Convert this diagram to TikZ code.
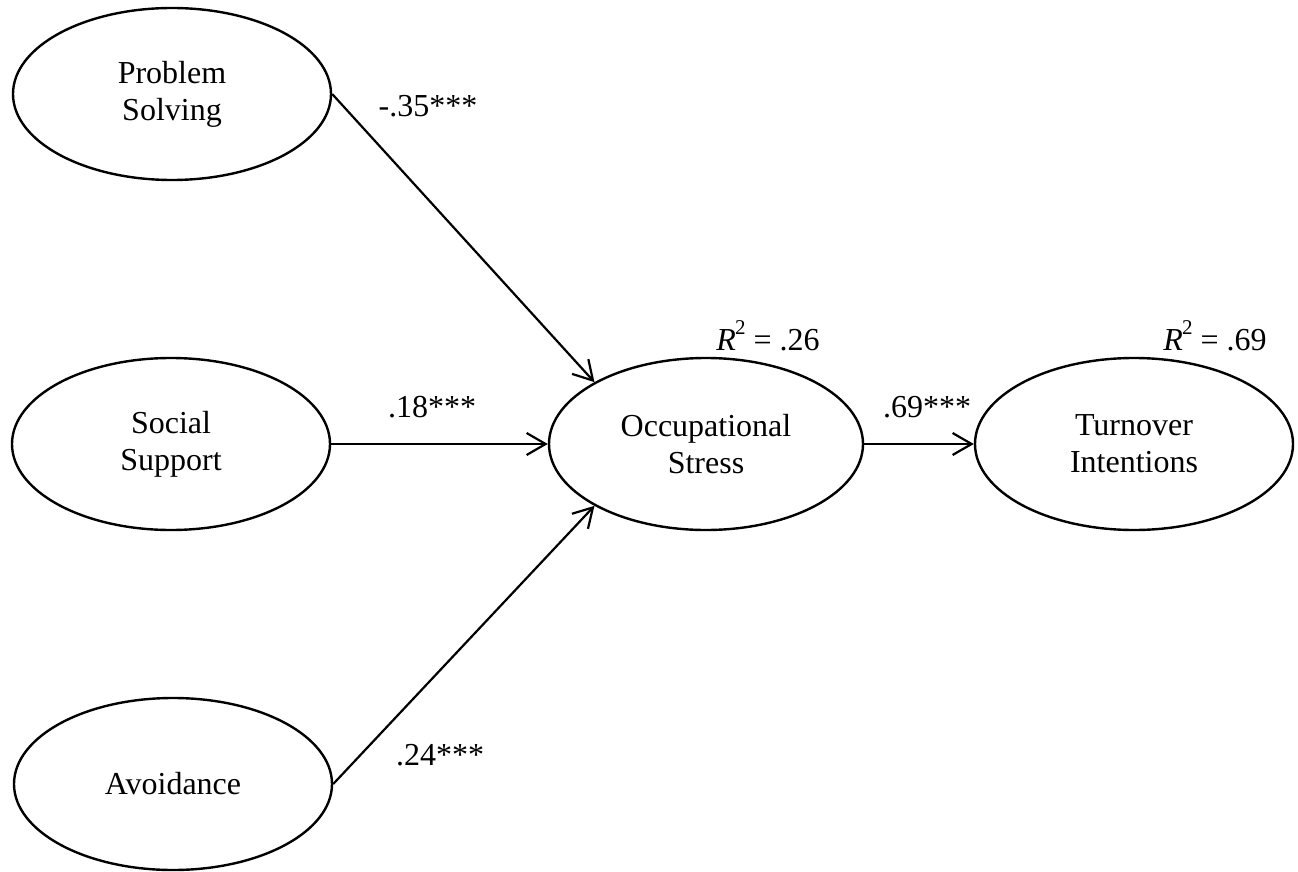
\documentclass[tikz,border=0pt]{standalone}
\usepackage{fontspec}
\setmainfont{Liberation Serif}
\usetikzlibrary{shapes.geometric,arrows.meta}
\begin{document}
\begin{tikzpicture}[x=1pt,y=-1pt,
  font=\fontsize{32}{37}\selectfont,
  latent/.style={draw,ellipse,line width=2.4pt,minimum width=318pt,minimum height=172pt,inner sep=0pt,align=center},
  path/.style={line width=2.2pt,-{Straight Barb[length=19pt,width=22pt]}},
  lab/.style={anchor=base,inner sep=0pt}]
\useasboundingbox (0,0) rectangle (1298,872);
\node[latent] (PS) at (172,94) {Problem\\Solving};
\node[latent] (SS) at (171,444) {Social\\Support};
\node[latent] (AV) at (173,784) {Avoidance};
\node[latent,minimum width=314pt] (OS) at (706,444) {Occupational\\Stress};
\node[latent] (TI) at (1134,444) {Turnover\\Intentions};
\draw[path] (PS.east) -- (OS.151);
\draw[path] (SS.east) -- (OS.west);
\draw[path] (AV.east) -- (OS.209);
\draw[path] (OS.east) -- (TI.west);
\node[lab] (l1) at (428,117) {-.35***};
\node[lab] (l2) at (432,417) {.18***};
\node[lab] (l3) at (440,765) {.24***};
\node[lab] (l4) at (927,417) {.69***};
\node[lab] (r1) at (768,350) {\textit{R}\kern-1pt\raisebox{0.5em}{\fontsize{21}{21}\selectfont 2} = .26};
\node[lab] (r2) at (1215,350) {\textit{R}\kern-1pt\raisebox{0.5em}{\fontsize{21}{21}\selectfont 2} = .69};
\end{tikzpicture}
\end{document}
